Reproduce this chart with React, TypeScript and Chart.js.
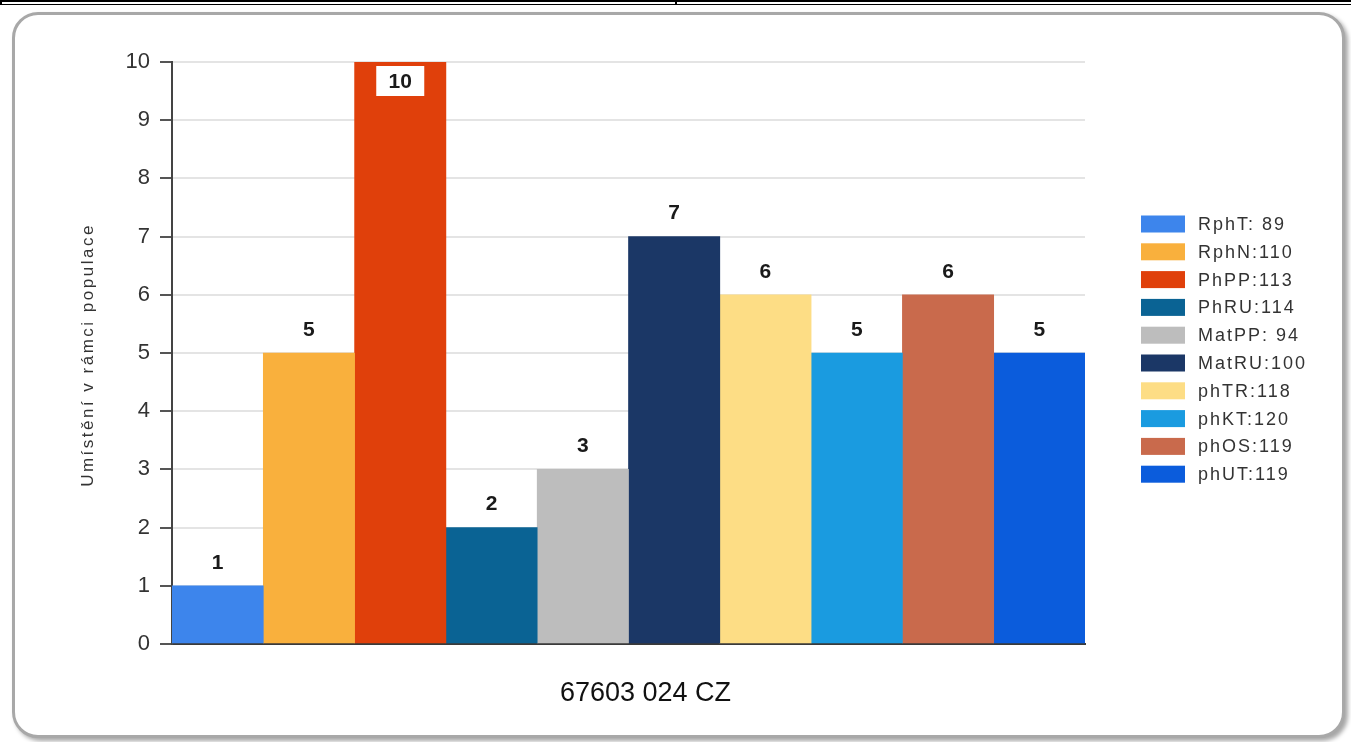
import React, { useEffect, useRef } from "react";
import { Chart, registerables } from "chart.js";

Chart.register(...registerables);

const categories = ["67603 024 CZ"];
const seriesLabels = ["RphT: 89", "RphN:110", "PhPP:113", "PhRU:114", "MatPP: 94", "MatRU:100", "phTR:118", "phKT:120", "phOS:119", "phUT:119"];
const seriesValues = [1, 5, 10, 2, 3, 7, 6, 5, 6, 5];
const seriesColors = ["#3d85ec", "#f9b03d", "#e0400b", "#0a6394", "#bdbdbd", "#1b3766", "#fddd85", "#1a9be0", "#c96a4c", "#0b5cdc"];
const yTitle = "Umístění v rámci populace";
const yMin = 0;
const yMax = 10;

const W = 1351;
const H = 742;

const overlayPlugin = {
  id: "overlay",
  afterDatasetsDraw(chart: any) {
    const ctx = chart.ctx;
    const yScale = chart.scales.y;
    ctx.save();
    ctx.font = "bold 21px Arial, 'Liberation Sans', sans-serif";
    ctx.textAlign = "center";
    ctx.textBaseline = "middle";
    chart.data.datasets.forEach((ds: any, i: number) => {
      const meta = chart.getDatasetMeta(i);
      const bar = meta.data[0];
      if (!bar) return;
      const v = ds.data[0];
      const text = String(v);
      if (v >= yScale.max) {
        const cy = bar.y + 19;
        ctx.fillStyle = "#ffffff";
        ctx.fillRect(bar.x - 24, cy - 15, 48, 30);
        ctx.fillStyle = "#1a1a1a";
        ctx.fillText(text, bar.x, cy + 1);
      } else {
        ctx.fillStyle = "#1a1a1a";
        ctx.fillText(text, bar.x, bar.y - 23);
      }
    });
    ctx.restore();
  },
  afterDraw(chart: any) {
    const ctx = chart.ctx;
    ctx.save();
    const boxX = 1141;
    const boxW = 44;
    const boxH = 17;
    const top = 224;
    const step = 27.8;
    ctx.font = "18px Arial, 'Liberation Sans', sans-serif";
    (ctx as any).letterSpacing = "2px";
    ctx.textAlign = "left";
    ctx.textBaseline = "middle";
    chart.data.datasets.forEach((ds: any, i: number) => {
      const cy = top + i * step;
      ctx.fillStyle = ds.backgroundColor;
      ctx.fillRect(boxX, cy - boxH / 2, boxW, boxH);
      ctx.fillStyle = "#333333";
      ctx.fillText(ds.label, 1198, cy + 1);
    });
    ctx.font = "17px Arial, 'Liberation Sans', sans-serif";
    (ctx as any).letterSpacing = "2.5px";
    ctx.translate(88, 355);
    ctx.rotate(-Math.PI / 2);
    ctx.textAlign = "center";
    ctx.textBaseline = "middle";
    ctx.fillStyle = "#333333";
    ctx.fillText(yTitle, 0, 0);
    ctx.restore();
  },
};

function App() {
  const ref = useRef<HTMLCanvasElement | null>(null);

  useEffect(() => {
    if (!ref.current) return;
    const chart = new Chart(ref.current, {
      type: "bar",
      data: {
        labels: categories,
        datasets: seriesLabels.map((label, i) => ({
          label,
          data: [seriesValues[i]],
          backgroundColor: seriesColors[i],
          borderWidth: 0,
          barPercentage: 1,
          categoryPercentage: 1,
        })),
      },
      options: {
        animation: false,
        responsive: true,
        maintainAspectRatio: false,
        devicePixelRatio: 1,
        layout: { padding: { left: 0, top: 62, right: W - 1085, bottom: 0 } },
        plugins: {
          legend: { display: false },
          tooltip: { enabled: false },
          title: { display: false },
        },
        scales: {
          x: {
            z: 1,
            grid: { display: false, drawTicks: false },
            border: { display: true, color: "#3a3a3a", width: 2 },
            ticks: {
              color: "#111111",
              font: { family: "Arial, 'Liberation Sans', sans-serif", size: 27 },
              padding: 33,
              labelOffset: 17,
              maxRotation: 0,
            },
            afterFit(scale: any) {
              scale.height = H - 644;
            },
          },
          y: {
            min: yMin,
            max: yMax,
            ticks: {
              stepSize: 1,
              color: "#333333",
              font: { family: "Arial, 'Liberation Sans', sans-serif", size: 22 },
              padding: 10,
            },
            grid: {
              color: "#e4e4e4",
              lineWidth: 2,
              tickColor: "#555555",
              tickLength: 12,
              tickWidth: 2,
            },
            border: { display: true, color: "#444444", width: 2 },
            afterFit(scale: any) {
              scale.width = 172;
            },
          },
        },
      },
      plugins: [overlayPlugin],
    });
    return () => chart.destroy();
  }, []);

  return (
    <div style={{ position: "absolute", left: 0, top: 0, width: W, height: H, background: "#ffffff", overflow: "hidden" }}>
      <div style={{ position: "absolute", left: 0, top: 0, width: 677, height: 5, borderTop: "2px solid #000", borderBottom: "1px solid #000", borderLeft: "2px solid #000", borderRight: "2px solid #000", boxSizing: "border-box" }} />
      <div style={{ position: "absolute", left: 677, top: 0, width: W - 677, height: 5, borderTop: "2px solid #000", borderBottom: "1px solid #000", boxSizing: "border-box" }} />
      <div style={{ position: "absolute", left: 12, top: 12, width: 1333, height: 726, border: "3px solid #a8a8a8", borderRadius: 26, boxShadow: "3px 3px 4px rgba(0,0,0,0.35)", boxSizing: "border-box", background: "#ffffff" }} />
      <div style={{ position: "absolute", left: 0, top: 0, width: W, height: H }}>
        <canvas ref={ref} />
      </div>
    </div>
  );
}

export default App;
